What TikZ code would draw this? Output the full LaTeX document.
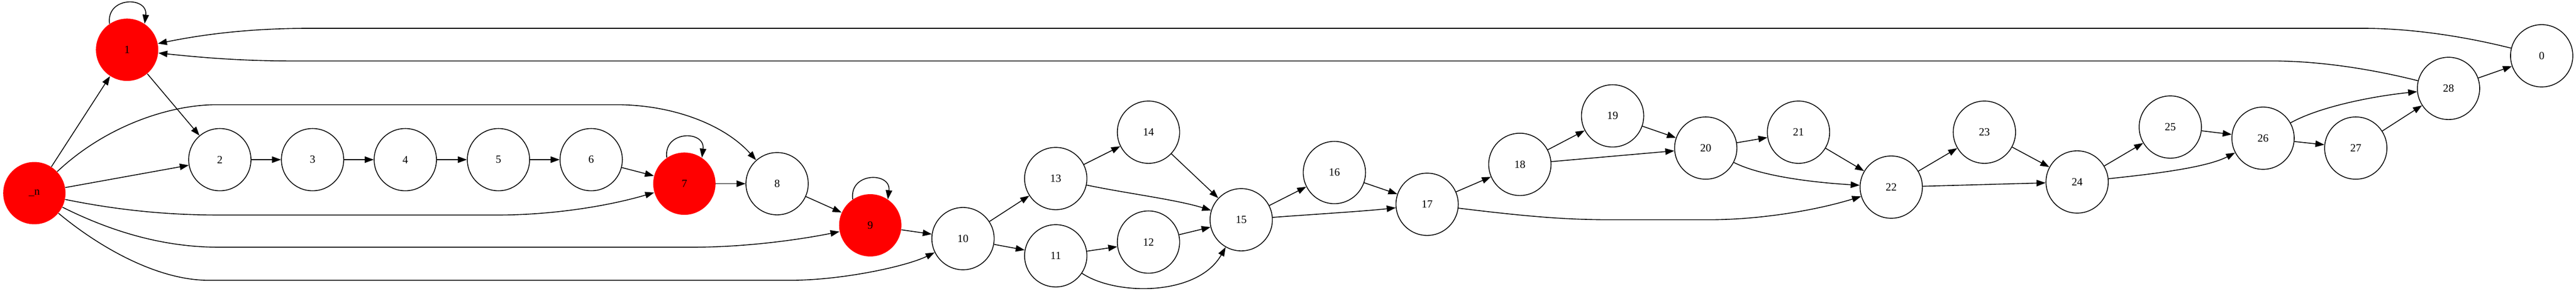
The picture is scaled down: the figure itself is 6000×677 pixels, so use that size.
\documentclass[tikz,border=0pt]{standalone}
\usepackage{fontspec}
\setmainfont{Liberation Serif}
\usetikzlibrary{arrows.meta}

\begin{document}
\begin{tikzpicture}[x=0.01cm, y=-0.01cm,
  vertex/.style={circle, draw, line width=0.55pt, minimum size=1.45cm, inner sep=0pt, font=\fontsize{7.3}{9}\selectfont},
  hotvertex/.style={circle, fill=red, minimum size=1.45cm, inner sep=0pt, font=\fontsize{7.3}{9}\selectfont},
  link/.style={line width=0.55pt, -{Triangle[length=0.21cm, width=0.15cm]}}]
\useasboundingbox (0,0) rectangle (6000,677);

\node [hotvertex] (vn) at (80,450) {\_n};
\node [hotvertex] (v1) at (296,116) {1};
\node [vertex] (v2) at (512,372) {2};
\node [vertex] (v3) at (728,372) {3};
\node [vertex] (v4) at (944,372) {4};
\node [vertex] (v5) at (1161,372) {5};
\node [vertex] (v6) at (1377,372) {6};
\node [hotvertex] (v7) at (1594,428) {7};
\node [vertex] (v8) at (1810,428) {8};
\node [hotvertex] (v9) at (2027,525) {9};
\node [vertex] (v10) at (2243,556) {10};
\node [vertex] (v11) at (2459,596) {11};
\node [vertex] (v12) at (2675,564) {12};
\node [vertex] (v13) at (2459,416) {13};
\node [vertex] (v14) at (2675,308) {14};
\node [vertex] (v15) at (2891,512) {15};
\node [vertex] (v16) at (3108,402) {16};
\node [vertex] (v17) at (3324,476) {17};
\node [vertex] (v18) at (3540,383) {18};
\node [vertex] (v19) at (3756,270) {19};
\node [vertex] (v20) at (3973,345) {20};
\node [vertex] (v21) at (4189,308) {21};
\node [vertex] (v22) at (4405,436) {22};
\node [vertex] (v23) at (4622,308) {23};
\node [vertex] (v24) at (4838,424) {24};
\node [vertex] (v25) at (5055,296) {25};
\node [vertex] (v26) at (5271,322) {26};
\node [vertex] (v27) at (5487,345) {27};
\node [vertex] (v28) at (5703,206) {28};
\node [vertex] (v0) at (5920,130) {0};

% from _n
\draw [link] (vn) -- (v1);
\draw [link] (vn) -- (v2);
\draw [link] (vn) .. controls (250,290) and (400,244) .. (504,244) -- (1436,244) .. controls (1566,244) and (1687,290) .. (v8);
\draw [link] (vn) .. controls (300,495) and (420,501) .. (510,501) -- (1160,501) .. controls (1280,501) and (1410,482) .. (v7);
\draw [link] (vn) .. controls (280,550) and (400,576) .. (510,576) -- (1612,576) .. controls (1750,576) and (1880,555) .. (v9);
\draw [link] (vn) .. controls (236,580) and (370,653) .. (485,653) -- (1842,653) .. controls (1960,653) and (2110,621) .. (v10);

% loops
\draw [link] (v1.124) .. controls +(-8,-64) and +(8,-64) .. (v1.56);
\draw [link] (v7.124) .. controls +(-8,-64) and +(8,-64) .. (v7.56);
\draw [link] (v9.124) .. controls +(-8,-64) and +(8,-64) .. (v9.56);

\draw [link] (v1) -- (v2);
\draw [link] (v2) -- (v3);
\draw [link] (v3) -- (v4);
\draw [link] (v4) -- (v5);
\draw [link] (v5) -- (v6);
\draw [link] (v6) -- (v7);
\draw [link] (v7) -- (v8);
\draw [link] (v8) -- (v9);
\draw [link] (v9) -- (v10);
\draw [link] (v10) -- (v13);
\draw [link] (v10) -- (v11);
\draw [link] (v11) -- (v12);
\draw [link] (v11) .. controls (2600,690) and (2790,690) .. (v15);
\draw [link] (v12) -- (v15);
\draw [link] (v13) -- (v14);
\draw [link] (v13) .. controls (2620,450) and (2740,465) .. (v15);
\draw [link] (v14) -- (v15);
\draw [link] (v15) -- (v16);
\draw [link] (v15) .. controls (3050,500) and (3180,492) .. (v17);
\draw [link] (v16) -- (v17);
\draw [link] (v17) -- (v18);
\draw [link] (v17) .. controls (3560,505) and (3650,512) .. (3750,512) -- (3980,512) .. controls (4100,512) and (4230,490) .. (v22);
\draw [link] (v18) -- (v19);
\draw [link] (v18) -- (v20);
\draw [link] (v19) -- (v20);
\draw [link] (v20) -- (v21);
\draw [link] (v20) .. controls (4100,410) and (4220,425) .. (v22);
\draw [link] (v21) -- (v22);
\draw [link] (v22) -- (v23);
\draw [link] (v22) -- (v24);
\draw [link] (v23) -- (v24);
\draw [link] (v24) -- (v25);
\draw [link] (v24) .. controls (5020,405) and (5140,390) .. (v26);
\draw [link] (v25) -- (v26);
\draw [link] (v26) -- (v27);
\draw [link] (v26) .. controls (5400,250) and (5520,225) .. (v28);
\draw [link] (v27) -- (v28);
\draw [link] (v28) -- (v0);

% back to 1
\draw [link] (v28) .. controls (5520,160) and (5400,142) .. (5290,142) -- (676,142) .. controls (550,142) and (450,132) .. (v1);
\draw [link] (v0) .. controls (5720,80) and (5600,66) .. (5504,66) -- (720,66) .. controls (560,66) and (450,85) .. (v1);

\end{tikzpicture}
\end{document}
